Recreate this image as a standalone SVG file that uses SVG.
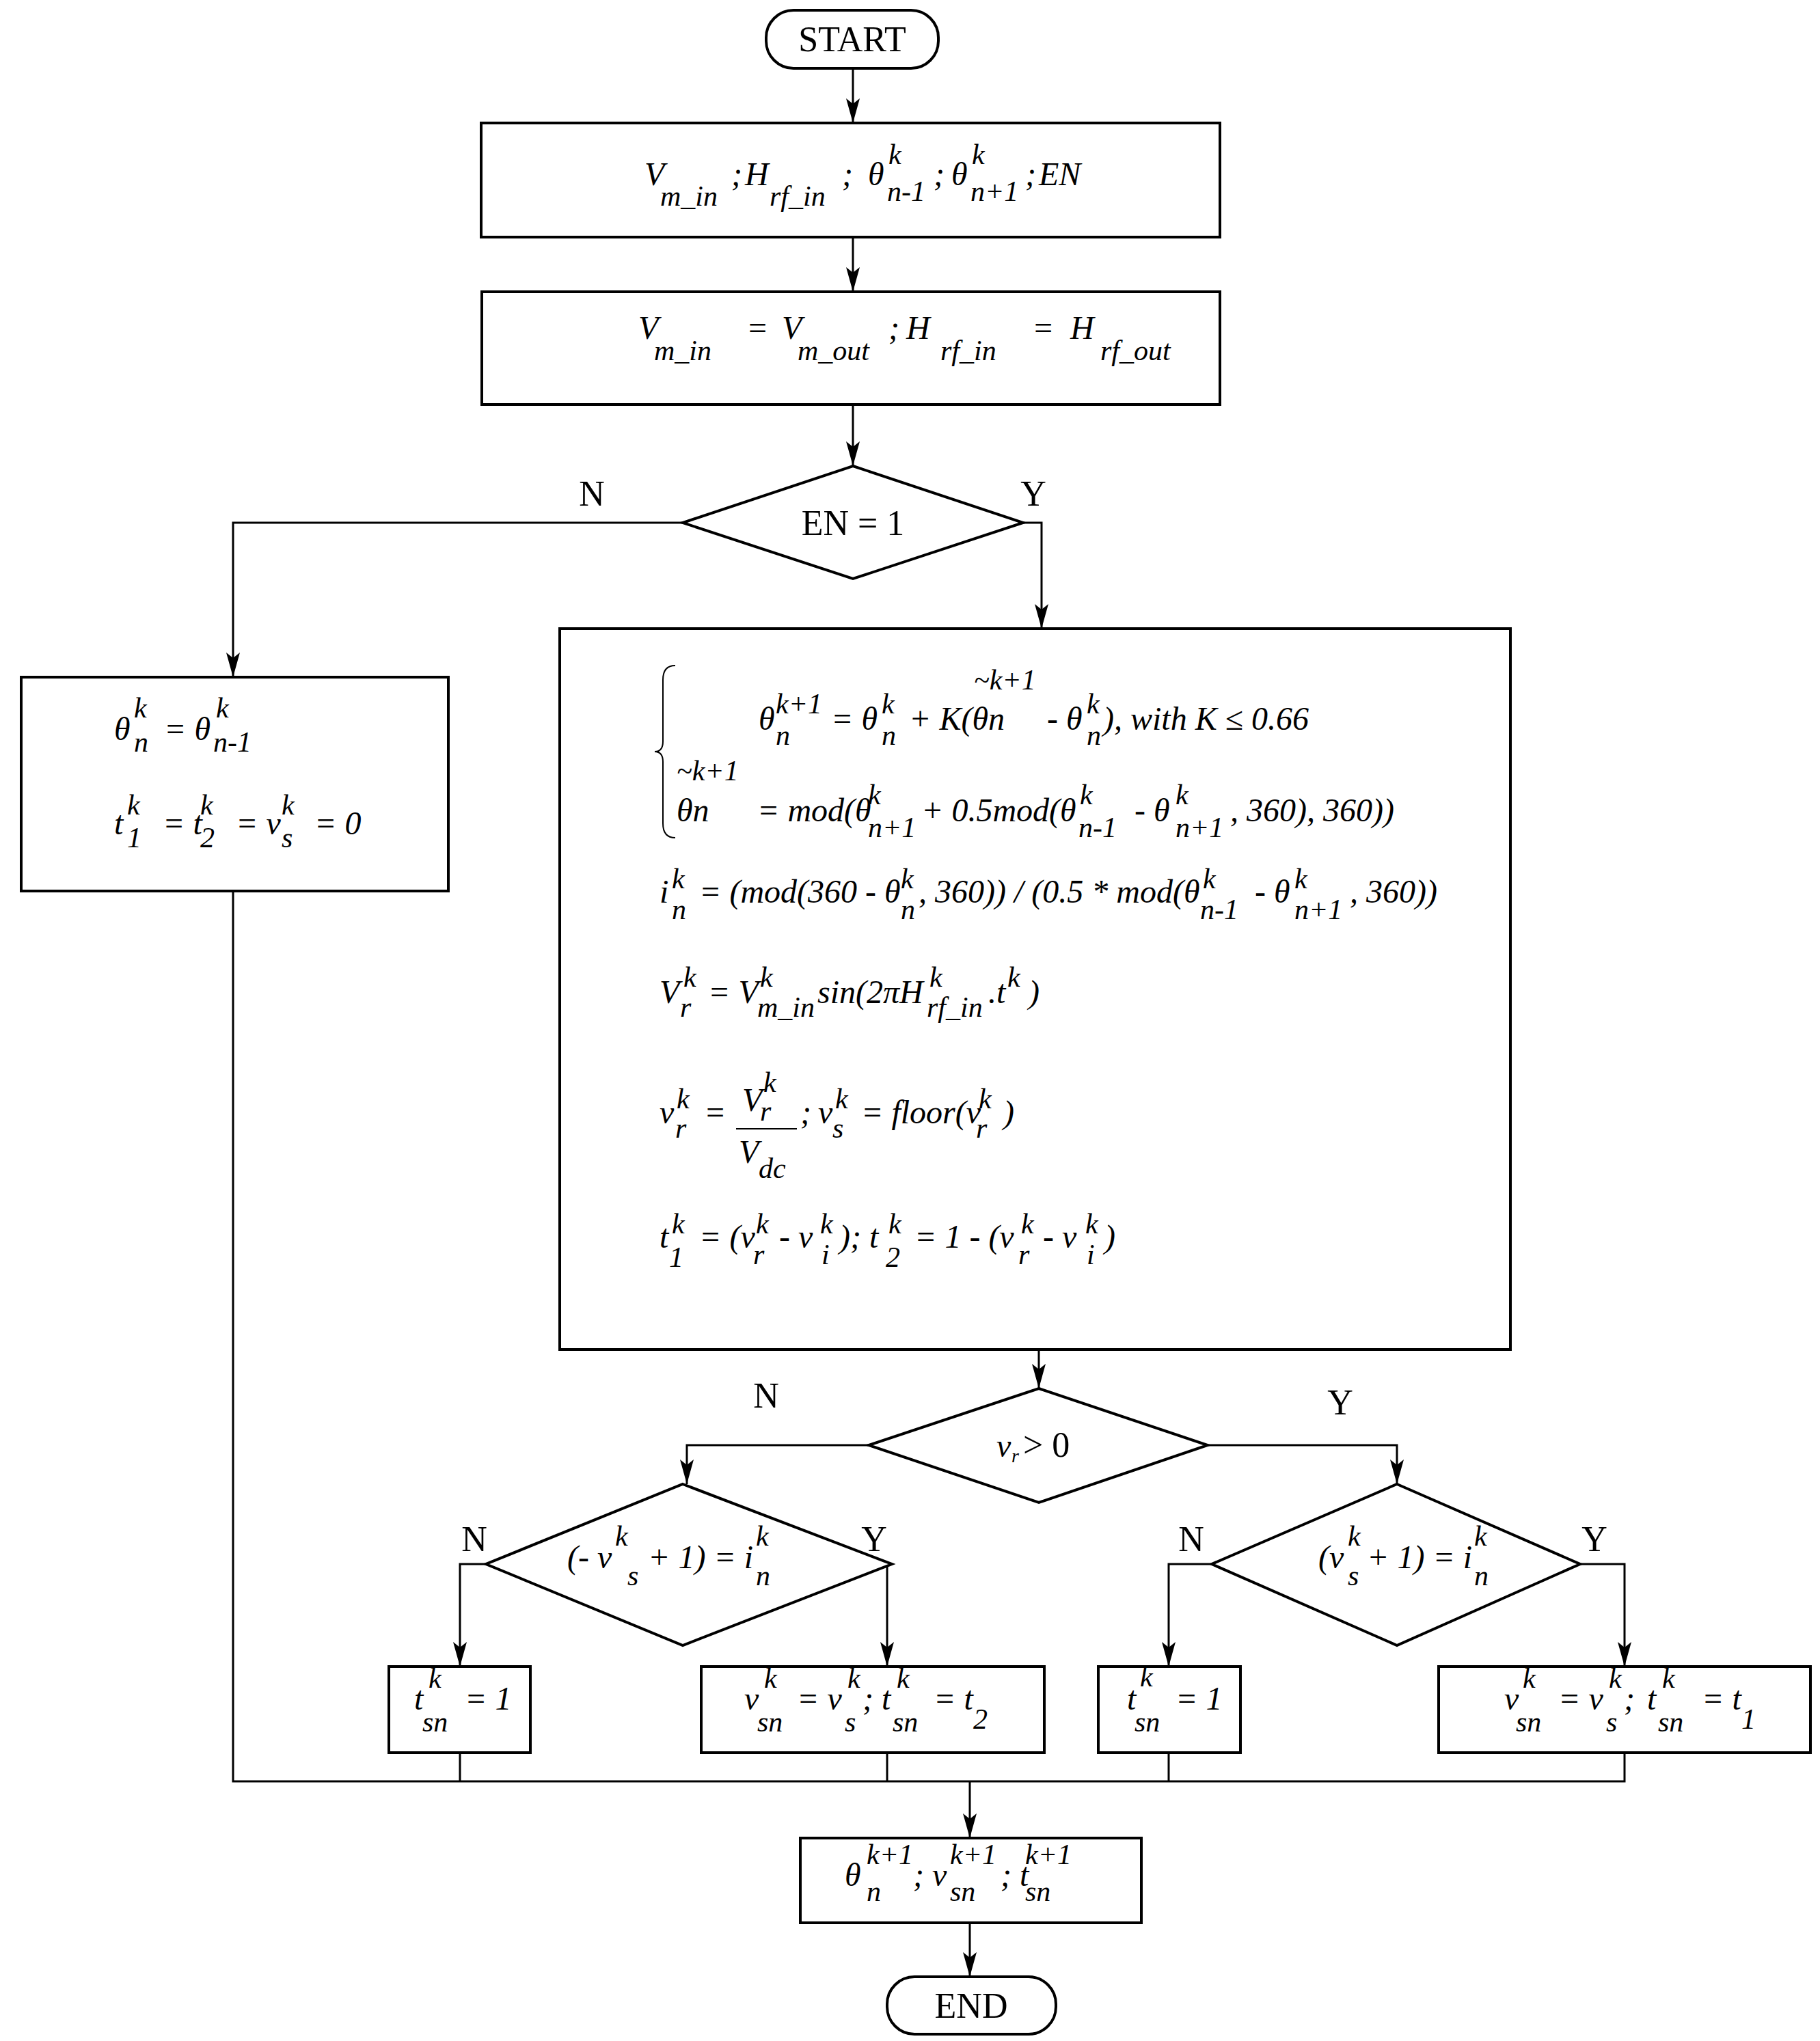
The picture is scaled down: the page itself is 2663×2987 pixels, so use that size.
<svg xmlns="http://www.w3.org/2000/svg" width="2663" height="2987" viewBox="0 0 2663 2987">
<style>
.b{fill:#fff;stroke:#000;stroke-width:4}
.c{fill:none;stroke:#000;stroke-width:3}
.m{font-family:"Liberation Serif",serif;font-style:italic;font-size:48px}
.s{font-family:"Liberation Serif",serif;font-style:italic;font-size:42px}
.u{font-family:"Liberation Serif",serif;font-size:52px}
</style>
<defs><marker id="ar" viewBox="0 0 20 36" markerWidth="20" markerHeight="36" refX="10" refY="36" orient="0" markerUnits="userSpaceOnUse"><path d="M0,0 L10,36 L20,0 L10,8 Z"/></marker></defs>
<g id="connectors" class="c">
<path d="M1248,100 V180" marker-end="url(#ar)"/>
<path d="M1248,347 V427" marker-end="url(#ar)"/>
<path d="M1248,592 V682" marker-end="url(#ar)"/>
<path d="M999,765 H341 V991" marker-end="url(#ar)"/>
<path d="M1497,765 H1524 V920" marker-end="url(#ar)"/>
<path d="M1520,1975 V2032" marker-end="url(#ar)"/>
<path d="M1271,2115 H1005 V2172" marker-end="url(#ar)"/>
<path d="M1767,2115 H2044 V2172" marker-end="url(#ar)"/>
<path d="M711,2289 H673 V2439" marker-end="url(#ar)"/>
<path d="M1305,2289 H1298 V2439" marker-end="url(#ar)"/>
<path d="M1773,2289 H1710 V2439" marker-end="url(#ar)"/>
<path d="M2312,2289 H2377 V2439" marker-end="url(#ar)"/>
<path d="M341,1304 V2607 H2377 V2565 M673,2565 V2607 M1298,2565 V2607 M1710,2565 V2607"/>
<path d="M1419,2607 V2690" marker-end="url(#ar)"/>
<path d="M1419,2814 V2893" marker-end="url(#ar)"/>
</g>
<g id="start"><rect class="b" x="1121" y="15" width="252" height="85" rx="40"/><text class="u" x="1247" y="75" text-anchor="middle">START</text></g>
<g id="input"><rect class="b" x="704" y="180" width="1081" height="167"/>
<text class="m" x="943" y="271">V</text><text class="s" x="966" y="301">m_in</text><text class="m" x="1070" y="271">;</text><text class="m" x="1090" y="271">H</text><text class="s" x="1126" y="301">rf_in</text><text class="m" x="1232" y="271">;</text>
<text class="m" x="1270" y="271">θ</text><text class="s" x="1300" y="240">k</text><text class="s" x="1298" y="294">n-1</text><text class="m" x="1366" y="271">;</text><text class="m" x="1392" y="271">θ</text><text class="s" x="1422" y="240">k</text><text class="s" x="1420" y="294">n+1</text><text class="m" x="1500" y="271">;</text><text class="m" x="1520" y="271">EN</text></g>
<g id="assign"><rect class="b" x="705" y="427" width="1080" height="165"/>
<text class="m" x="934" y="496">V</text><text class="s" x="957" y="527">m_in</text><text class="m" x="1092" y="496">=</text><text class="m" x="1144" y="496">V</text><text class="s" x="1167" y="527">m_out</text><text class="m" x="1300" y="496">;</text><text class="m" x="1326" y="496">H</text><text class="s" x="1376" y="527">rf_in</text><text class="m" x="1510" y="496">=</text><text class="m" x="1566" y="496">H</text><text class="s" x="1610" y="527">rf_out</text></g>
<g id="en"><path class="b" d="M1248,682 L1497,765 L1248,847 L999,765 Z"/><text class="u" x="1248" y="783" text-anchor="middle">EN = 1</text>
<text class="u" x="866" y="740" text-anchor="middle">N</text><text class="u" x="1512" y="740" text-anchor="middle">Y</text></g>
<g id="reset"><rect class="b" x="31" y="991" width="625" height="313"/>
<text class="m" x="167" y="1083">θ</text><text class="s" x="196" y="1050">k</text><text class="s" x="196" y="1100">n</text><text class="m" x="240" y="1083">= θ</text><text class="s" x="316" y="1050">k</text><text class="s" x="312" y="1100">n-1</text>
<text class="m" x="167" y="1221">t</text><text class="s" x="186" y="1192">k</text><text class="s" x="186" y="1240">1</text><text class="m" x="238" y="1221">= t</text><text class="s" x="293" y="1192">k</text><text class="s" x="293" y="1240">2</text><text class="m" x="345" y="1221">= v</text><text class="s" x="412" y="1192">k</text><text class="s" x="412" y="1240">s</text><text class="m" x="460" y="1221">= 0</text></g>
<g id="compute"><rect class="b" x="819" y="920" width="1391" height="1055"/>
<path class="c" d="M988,974 Q970,974 970,995 V1085 Q970,1100 958,1100 Q970,1100 970,1115 V1205 Q970,1226 988,1226" style="stroke-width:2"/>
<text class="m" x="1110" y="1068">θ</text><text class="s" x="1135" y="1044">k+1</text><text class="s" x="1135" y="1090">n</text><text class="m" x="1216" y="1068">= θ</text><text class="s" x="1290" y="1044">k</text><text class="s" x="1290" y="1090">n</text><text class="m" x="1330" y="1068">+ K(θn</text><text class="s" x="1425" y="1009">~k+1</text><text class="m" x="1532" y="1068">- θ</text><text class="s" x="1590" y="1044">k</text><text class="s" x="1590" y="1090">n</text><text class="m" x="1614" y="1068">), with K ≤ 0.66</text>
<text class="s" x="990" y="1142">~k+1</text><text class="m" x="990" y="1202">θn</text><text class="m" x="1108" y="1202">= mod(θ</text><text class="s" x="1270" y="1177">k</text><text class="s" x="1270" y="1225">n+1</text><text class="m" x="1348" y="1202">+ 0.5mod(θ</text><text class="s" x="1580" y="1177">k</text><text class="s" x="1578" y="1225">n-1</text><text class="m" x="1660" y="1202">- θ</text><text class="s" x="1720" y="1177">k</text><text class="s" x="1720" y="1225">n+1</text><text class="m" x="1800" y="1202">, 360), 360))</text>
<text class="m" x="965" y="1321">i</text><text class="s" x="983" y="1300">k</text><text class="s" x="983" y="1345">n</text><text class="m" x="1023" y="1321">= (mod(360 - θ</text><text class="s" x="1318" y="1300">k</text><text class="s" x="1318" y="1345">n</text><text class="m" x="1344" y="1321">, 360)) / (0.5 * mod(θ</text><text class="s" x="1760" y="1300">k</text><text class="s" x="1756" y="1345">n-1</text><text class="m" x="1836" y="1321">- θ</text><text class="s" x="1894" y="1300">k</text><text class="s" x="1894" y="1345">n+1</text><text class="m" x="1975" y="1321">, 360))</text>
<text class="m" x="965" y="1468">V</text><text class="s" x="1000" y="1444">k</text><text class="s" x="995" y="1488">r</text><text class="m" x="1036" y="1468">= V</text><text class="s" x="1112" y="1444">k</text><text class="s" x="1108" y="1488">m_in</text><text class="m" x="1196" y="1468">sin(2πH</text><text class="s" x="1360" y="1444">k</text><text class="s" x="1356" y="1488">rf_in</text><text class="m" x="1446" y="1468">.t</text><text class="s" x="1474" y="1444">k</text><text class="m" x="1505" y="1468">)</text>
<text class="m" x="965" y="1644">v</text><text class="s" x="990" y="1622">k</text><text class="s" x="988" y="1665">r</text><text class="m" x="1030" y="1644">=</text><text class="m" x="1086" y="1626">V</text><text class="s" x="1117" y="1598">k</text><text class="s" x="1112" y="1640">r</text><path d="M1077,1652 H1166" stroke="#000" stroke-width="2"/><text class="m" x="1081" y="1702">V</text><text class="s" x="1110" y="1724">dc</text>
<text class="m" x="1171" y="1644">;</text><text class="m" x="1197" y="1644">v</text><text class="s" x="1222" y="1622">k</text><text class="s" x="1218" y="1665">s</text><text class="m" x="1260" y="1644">= floor(v</text><text class="s" x="1432" y="1622">k</text><text class="s" x="1428" y="1665">r</text><text class="m" x="1468" y="1644">)</text>
<text class="m" x="965" y="1826">t</text><text class="s" x="983" y="1805">k</text><text class="s" x="979" y="1854">1</text><text class="m" x="1023" y="1826">= (v</text><text class="s" x="1106" y="1805">k</text><text class="s" x="1102" y="1850">r</text><text class="m" x="1140" y="1826">- v</text><text class="s" x="1200" y="1805">k</text><text class="s" x="1202" y="1850">i</text><text class="m" x="1228" y="1826">); t</text><text class="s" x="1300" y="1805">k</text><text class="s" x="1296" y="1854">2</text><text class="m" x="1338" y="1826">= 1 - (v</text><text class="s" x="1494" y="1805">k</text><text class="s" x="1490" y="1850">r</text><text class="m" x="1526" y="1826">- v</text><text class="s" x="1588" y="1805">k</text><text class="s" x="1590" y="1850">i</text><text class="m" x="1616" y="1826">)</text></g>
<g id="vr"><path class="b" d="M1520,2032 L1767,2115 L1520,2199 L1271,2115 Z"/><text class="m" x="1458" y="2132">v</text><text class="s" x="1480" y="2140" style="font-size:28px">r</text><text class="u" x="1497" y="2132">&gt; 0</text>
<text class="u" x="1121" y="2060" text-anchor="middle">N</text><text class="u" x="1961" y="2070" text-anchor="middle">Y</text></g>
<g id="condL"><path class="b" d="M999,2172 L1305,2289 L999,2408 L711,2289 Z"/><text class="m" x="830" y="2295">(- v</text><text class="s" x="900" y="2262">k</text><text class="s" x="918" y="2320">s</text><text class="m" x="948" y="2295">+ 1) = i</text><text class="s" x="1106" y="2262">k</text><text class="s" x="1106" y="2320">n</text>
<text class="u" x="694" y="2270" text-anchor="middle">N</text><text class="u" x="1279" y="2270" text-anchor="middle">Y</text></g>
<g id="condR"><path class="b" d="M2044,2172 L2312,2289 L2044,2408 L1773,2289 Z"/><text class="m" x="1929" y="2295">(v</text><text class="s" x="1972" y="2262">k</text><text class="s" x="1972" y="2320">s</text><text class="m" x="2000" y="2295">+ 1) = i</text><text class="s" x="2157" y="2262">k</text><text class="s" x="2157" y="2320">n</text>
<text class="u" x="1743" y="2270" text-anchor="middle">N</text><text class="u" x="2333" y="2270" text-anchor="middle">Y</text></g>
<g id="tsnL"><rect class="b" x="569" y="2439" width="207" height="126"/><text class="m" x="606" y="2502">t</text><text class="s" x="627" y="2470">k</text><text class="s" x="618" y="2534">sn</text><text class="m" x="680" y="2502">= 1</text></g>
<g id="vsnL"><rect class="b" x="1026" y="2439" width="502" height="126"/><text class="m" x="1089" y="2502">v</text><text class="s" x="1118" y="2470">k</text><text class="s" x="1108" y="2534">sn</text><text class="m" x="1166" y="2502">= v</text><text class="s" x="1240" y="2470">k</text><text class="s" x="1236" y="2534">s</text><text class="m" x="1262" y="2502">;</text><text class="m" x="1290" y="2502">t</text><text class="s" x="1312" y="2470">k</text><text class="s" x="1306" y="2534">sn</text><text class="m" x="1366" y="2502">= t</text><text class="s" x="1424" y="2530">2</text></g>
<g id="tsnR"><rect class="b" x="1607" y="2439" width="208" height="126"/><text class="m" x="1649" y="2502">t</text><text class="s" x="1668" y="2468">k</text><text class="s" x="1660" y="2534">sn</text><text class="m" x="1720" y="2502">= 1</text></g>
<g id="vsnR"><rect class="b" x="2105" y="2439" width="544" height="126"/><text class="m" x="2201" y="2502">v</text><text class="s" x="2228" y="2470">k</text><text class="s" x="2218" y="2534">sn</text><text class="m" x="2280" y="2502">= v</text><text class="s" x="2354" y="2470">k</text><text class="s" x="2350" y="2534">s</text><text class="m" x="2376" y="2502">;</text><text class="m" x="2410" y="2502">t</text><text class="s" x="2432" y="2470">k</text><text class="s" x="2426" y="2534">sn</text><text class="m" x="2490" y="2502">= t</text><text class="s" x="2548" y="2530">1</text></g>
<g id="output"><rect class="b" x="1171" y="2690" width="499" height="124"/><text class="m" x="1236" y="2760">θ</text><text class="s" x="1268" y="2728">k+1</text><text class="s" x="1268" y="2782">n</text><text class="m" x="1336" y="2760">; v</text><text class="s" x="1390" y="2728">k+1</text><text class="s" x="1390" y="2782">sn</text><text class="m" x="1464" y="2760">; t</text><text class="s" x="1500" y="2728">k+1</text><text class="s" x="1500" y="2782">sn</text></g>
<g id="end"><rect class="b" x="1298" y="2953" width="0" height="0"/><rect class="b" x="1298" y="2893" width="247" height="84" rx="40"/><text class="u" x="1421" y="2953" text-anchor="middle">END</text></g>
</svg>
